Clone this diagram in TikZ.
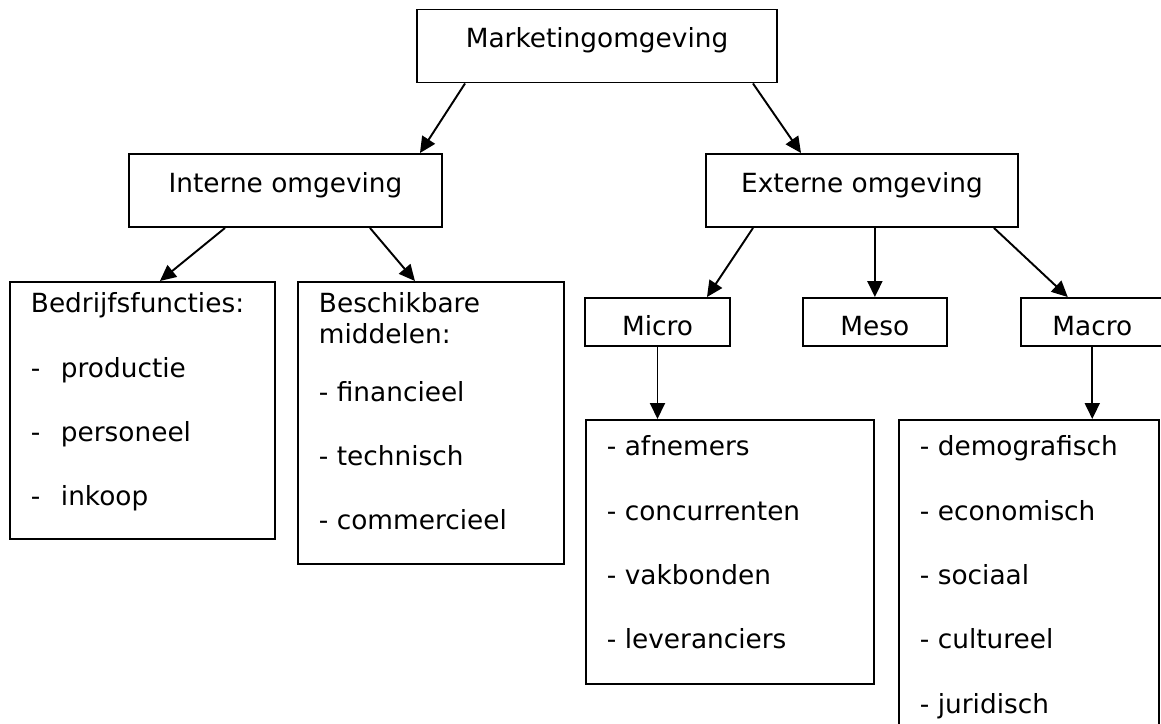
\documentclass[tikz,border=0pt]{standalone}
\usepackage{fontspec}
\setmainfont{DejaVu Sans}
\usetikzlibrary{arrows.meta,positioning}
\newcommand{\listtext}[4]{\parbox[t][#1][t]{#2}{\raggedright\rule{0pt}{#3}#4}}

\begin{document}
\begin{tikzpicture}[x=0.02cm,y=-0.02cm,>={Triangle[length=0.32cm,width=0.3cm]},
            line width=1.1pt,
            every node/.style={font=\fontsize{15pt}{17.6pt}\selectfont},
            head node/.style={draw,inner sep=0pt,text height=0.76cm,text depth=0.7cm},
            sub node/.style={draw,inner sep=0pt,text height=0.74cm,text depth=0.22cm},
            list node/.style={draw,anchor=north west,inner xsep=0.42cm,inner ysep=0pt}]

        \useasboundingbox (0,0) rectangle (1161,724);
        \clip (0,0) rectangle (1161,724);

        \node[head node,minimum width=7.2cm] (mark) at (597,46) {Marketingomgeving};
        \node[head node,minimum width=6.26cm] (intern) at (285.5,190.5) {Interne omgeving};
        \node[head node,minimum width=6.24cm] (extern) at (862,190.5) {Externe omgeving};

        \node[sub node,minimum width=2.9cm] (micro) at (657.5,322) {Micro};
        \node[sub node,minimum width=2.88cm] (meso) [right=1.42cm of micro] {Meso};
        \node[sub node,minimum width=2.86cm] (macro) [right=1.44cm of meso] {Macro};

        \node[list node] (bedrijf) at (9,281) {\listtext{5.14cm}{4.46cm}{0.62cm}{Bedrijfsfuncties:\\[19pt]
            \makebox[0.6cm][l]{-}productie\\[19pt]
            \makebox[0.6cm][l]{-}personeel\\[19pt]
            \makebox[0.6cm][l]{-}inkoop}};
        \node[list node] (middel) at (297,281) {\listtext{5.64cm}{4.48cm}{0.62cm}{Beschikbare\\middelen:\\[15pt]
            - financieel\\[19pt]
            - technisch\\[19pt]
            - commercieel}};
        \node[list node] (microlist) at (585,419) {\listtext{5.28cm}{4.92cm}{0.72cm}{- afnemers\\[19pt]
            - concurrenten\\[19pt]
            - vakbonden\\[19pt]
            - leveranciers}};
        \node[list node] (macrolist) at (898,419) {\listtext{6.62cm}{4.36cm}{0.72cm}{- demografisch\\[19pt]
            - economisch\\[19pt]
            - sociaal\\[19pt]
            - cultureel\\[19pt]
            - juridisch}};

        \draw[->] ([xshift=-2.64cm]mark.south) -- ([xshift=2.69cm]intern.north);
        \draw[->] ([xshift=3.12cm]mark.south) -- ([xshift=-1.22cm]extern.north);
        \draw[->] ([xshift=-1.21cm]intern.south) -- ([xshift=0.35cm]bedrijf.north);
        \draw[->] ([xshift=1.69cm]intern.south) -- ([xshift=-0.32cm]middel.north);
        \draw[->] ([xshift=-2.18cm]extern.south) -- ([xshift=0.99cm]micro.north);
        \draw[->] (extern.south -| meso.north) -- (meso.north);
        \draw[->] ([xshift=2.64cm]extern.south) -- ([xshift=-0.49cm]macro.north);
        \draw[->] (micro.south) -- (micro.south |- microlist.north);
        \draw[->] (macro.south) -- (macro.south |- macrolist.north);

    \end{tikzpicture}
\end{document}
